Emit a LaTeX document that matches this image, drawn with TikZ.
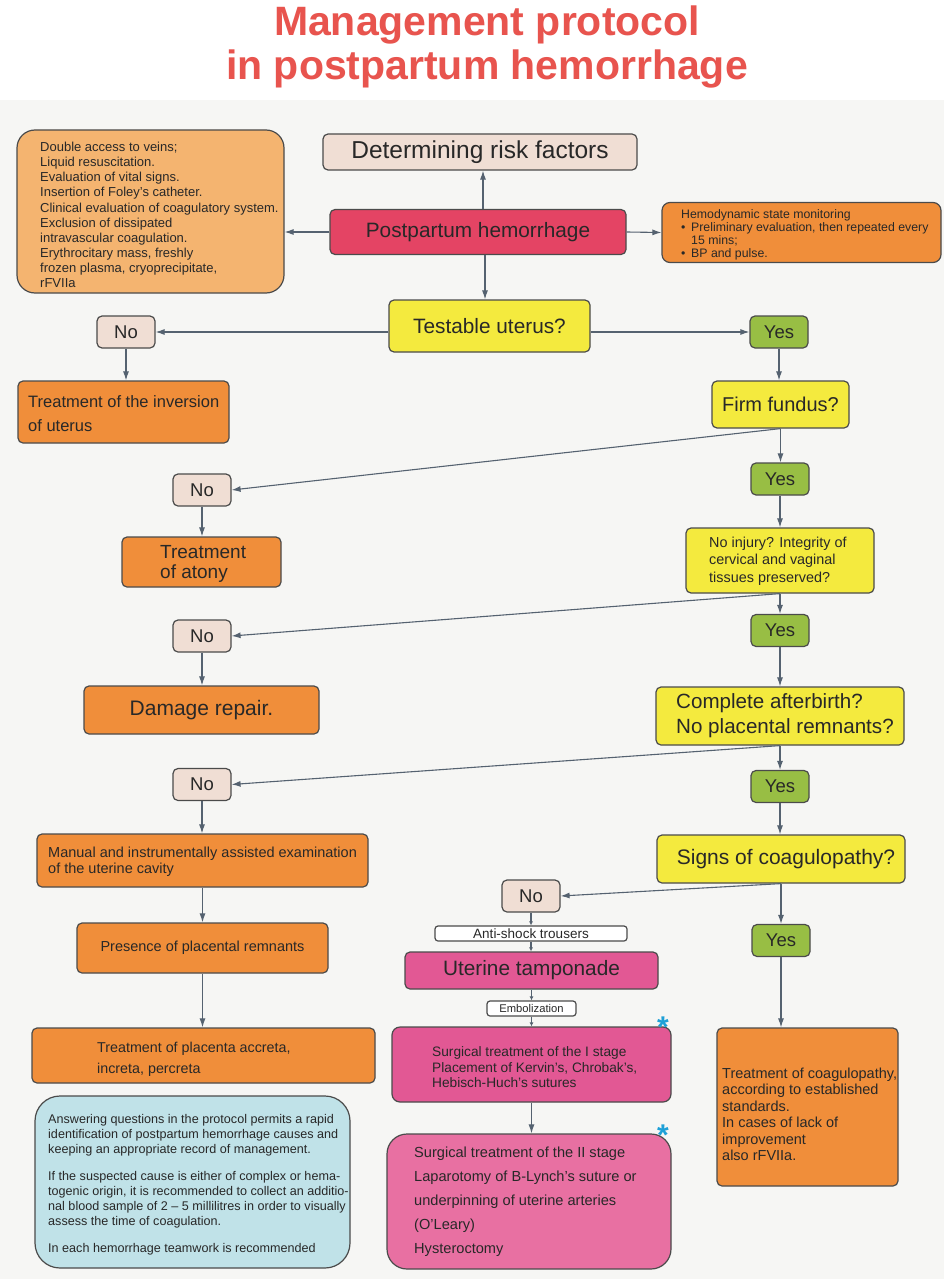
\documentclass[tikz,border=0pt]{standalone}
\usepackage{fontspec}
\setmainfont{Liberation Sans}
\usetikzlibrary{arrows.meta,calc}
\definecolor{pale}{RGB}{240,222,212}
\definecolor{crim}{RGB}{228,68,100}
\definecolor{lorange}{RGB}{244,180,112}
\definecolor{orng}{RGB}{240,142,58}
\definecolor{yel}{RGB}{244,234,62}
\definecolor{grn}{RGB}{152,190,68}
\definecolor{mag}{RGB}{226,88,148}
\definecolor{mag2}{RGB}{232,112,162}
\definecolor{lblue}{RGB}{192,226,232}
\definecolor{edge}{RGB}{75,75,75}
\definecolor{arr}{RGB}{85,98,112}
\definecolor{titlered}{RGB}{232,84,78}
\definecolor{starblue}{RGB}{30,160,215}
\definecolor{bg}{RGB}{246,246,244}
\definecolor{txt}{RGB}{40,40,40}
\newcommand{\myfs}[2]{\fontsize{#1}{#2}\selectfont}
\tikzset{
  box/.style={draw=edge, line width=1.2pt, rounded corners=5pt, inner sep=0pt, text=txt, align=center},
  lbl/.style={inner sep=0pt, text=txt, align=left, anchor=west},
  arw/.style={draw=arr, line width=1.1pt, -{Latex[length=9pt,width=6pt]}},
  sarw/.style={draw=arr, line width=1.1pt, -{Latex[length=4pt,width=4pt]}},
  yn/.style={box, minimum width=58pt, minimum height=32pt, font=\myfs{18.5}{21}},
  starnode/.style={text=starblue, inner sep=0pt, font=\bfseries\myfs{30}{30}}
}
\begin{document}
\begin{tikzpicture}[x=1pt,y=-1pt]
\useasboundingbox (0,0) rectangle (944,1279);
\fill[white] (0,0) rectangle (944,1279);
\fill[bg] (0,100) rectangle (944,1279);
% title
\node[text=titlered, font=\bfseries\myfs{41}{44}, align=center, inner sep=0pt] (title) at (487,47)
  {Management protocol\\in postpartum hemorrhage};
% top row
\node[box, fill=pale, minimum width=314pt, minimum height=36pt, font=\myfs{24.5}{28}] (risk) at (480,152) {Determining risk factors};
\node[box, fill=crim, minimum width=296pt, minimum height=45pt, font=\myfs{20.8}{24}] (pph) at (478,232) {Postpartum hemorrhage};
\node[box, fill=lorange, rounded corners=18pt, minimum width=267pt, minimum height=163pt] (lbox) at (150.5,211.5) {};
\node[lbl, font=\myfs{13}{15.1}] (lboxt) at (40,215) {Double access to veins;\\Liquid resuscitation.\\Evaluation of vital signs.\\Insertion of Foley's catheter.\\Clinical evaluation of coagulatory system.\\Exclusion of dissipated\\intravascular coagulation.\\Erythrocitary mass, freshly\\frozen plasma, cryoprecipitate,\\rFVIIa};
\node[box, fill=orng, rounded corners=8pt, minimum width=279pt, minimum height=60pt] (hemo) at (801.5,232.5) {};
\node[lbl, font=\myfs{12.3}{12.8}] (hemot) at (681,235) {Hemodynamic state monitoring\\\makebox[10pt][l]{\textbullet}Preliminary evaluation, then repeated every\\\hspace*{10pt}15 mins;\\\makebox[10pt][l]{\textbullet}BP and pulse.};
% testable
\node[box, fill=yel, minimum width=201pt, minimum height=52pt, font=\myfs{20.8}{24}] (test) at (489.5,326) {Testable uterus?};
\node[yn, fill=pale] (no1) at (126,332) {No};
\node[yn, fill=grn] (yes1) at (779,332) {Yes};
\node[box, fill=orng, minimum width=211pt, minimum height=62pt] (inv) at (123.5,412) {};
\node[lbl, font=\myfs{16.5}{24}] (invt) at (28,414) {Treatment of the inversion\\of uterus};
\node[box, fill=yel, minimum width=137pt, minimum height=47pt, font=\myfs{20}{23}] (firm) at (780.5,404.5) {Firm fundus?};
% atony level
\node[yn, fill=pale] (no2) at (202,490) {No};
\node[yn, fill=grn] (yes2) at (780,479) {Yes};
\node[box, fill=orng, minimum width=159pt, minimum height=50pt] (atony) at (201.5,562) {};
\node[lbl, font=\myfs{19}{20.5}] (atonyt) at (160,564) {Treatment\\of atony};
\node[box, fill=yel, minimum width=188pt, minimum height=65pt] (noinj) at (780,560.5) {};
\node[lbl, font=\myfs{14.4}{17.5}] (noinjt) at (709,561) {No injury? Integrity of\\cervical and vaginal\\tissues preserved?};
% damage level
\node[yn, fill=pale] (no3) at (202,636) {No};
\node[yn, fill=grn] (yes3) at (780,630.5) {Yes};
\node[box, fill=orng, minimum width=235pt, minimum height=48pt, font=\myfs{21}{24}] (dmg) at (201.5,710) {Damage repair.};
\node[box, fill=yel, minimum width=248pt, minimum height=58pt] (compl) at (780,716) {};
\node[lbl, font=\myfs{20.6}{25}] (complt) at (676,715.5) {Complete afterbirth?\\No placental remnants?};
% placenta level
\node[yn, fill=pale] (no4) at (202,784.5) {No};
\node[yn, fill=grn] (yes4) at (780,786.5) {Yes};
\node[box, fill=orng, minimum width=331pt, minimum height=53pt] (manual) at (202.5,860.5) {};
\node[lbl, font=\myfs{14.5}{16.5}] (manualt) at (48,861.5) {Manual and instrumentally assisted examination\\of the uterine cavity};
\node[box, fill=yel, minimum width=248pt, minimum height=48pt, font=\myfs{21}{24}] (signs) at (781,859) {\hspace*{10pt}Signs of coagulopathy?};
\node[box, fill=orng, minimum width=251pt, minimum height=50pt, font=\myfs{14.5}{17}] (pres) at (202.5,948) {Presence of placental remnants};
\node[box, fill=orng, minimum width=343pt, minimum height=55pt] (plac) at (203.5,1055.5) {};
\node[lbl, font=\myfs{14.3}{21}] (plact) at (97,1059.5) {Treatment of placenta accreta,\\increta, percreta};
% coagulopathy branches
\node[yn, fill=pale] (no5) at (531,896) {No};
\node[yn, fill=grn] (yes5) at (781,940.5) {Yes};
\node[box, fill=white, rounded corners=3pt, minimum width=192pt, minimum height=15pt, font=\myfs{13.5}{14}] (anti) at (531,933.5) {Anti-shock trousers};
\node[box, fill=mag, minimum width=253pt, minimum height=37pt, font=\myfs{20.8}{24}] (tamp) at (531.5,970.5) {Uterine tamponade};
\node[box, fill=white, rounded corners=3pt, minimum width=89pt, minimum height=15pt, font=\myfs{11.2}{12}] (embo) at (531.5,1008.5) {Embolization};
\node[box, fill=mag, rounded corners=8pt, minimum width=279pt, minimum height=75pt] (surg1) at (531.5,1064.5) {};
\node[lbl, font=\myfs{13.7}{15.5}] (surg1t) at (432,1067.5) {Surgical treatment of the I stage\\Placement of Kervin's, Chrobak's,\\Hebisch-Huch's sutures};
\node[box, fill=mag2, rounded corners=20pt, minimum width=284pt, minimum height=135pt] (surg2) at (529,1201.5) {};
\node[lbl, font=\myfs{14.6}{24}] (surg2t) at (414,1202) {Surgical treatment of the II stage\\Laparotomy of B-Lynch's suture or\\underpinning of uterine arteries\\(O'Leary)\\Hysteroctomy};
\node[starnode] (star1) at (663,1027) {*};
\node[starnode] (star2) at (663,1135) {*};
\node[box, fill=orng, minimum width=181pt, minimum height=158pt] (coag) at (807.5,1107) {};
\node[lbl, font=\myfs{14.5}{16.5}] (coagt) at (722,1114.5) {Treatment of coagulopathy,\\according to established\\standards.\\In cases of lack of\\improvement\\also rFVIIa.};
\node[box, fill=lblue, rounded corners=25pt, minimum width=315pt, minimum height=172pt] (note) at (192.5,1182) {};
\node[lbl, font=\myfs{12.6}{15}] (notet) at (48,1185) {Answering questions in the protocol permits a rapid\\identification of postpartum hemorrhage causes and\\keeping an appropriate record of management.\\[12pt]If the suspected cause is either of complex or hema-\\togenic origin, it is recommended to collect an additio-\\nal blood sample of 2 -- 5 millilitres in order to visually\\assess the time of coagulation.\\[12pt]In each hemorrhage teamwork is recommended};
% connectors
\draw[arw] ([xshift=5pt]pph.north) -- ([xshift=5pt]pph.north |- risk.south);
\draw[arw] (pph.west) -- (pph.west -| lbox.east);
\draw[arw] (pph.east) -- (hemo.west);
\draw[arw] ([xshift=7pt]pph.south) -- ([xshift=7pt]pph.south |- test.north);
\draw[arw] (test.west |- no1.east) -- (no1.east);
\draw[arw] (test.east |- yes1.west) -- (yes1.west);
\draw[arw] (no1.south) -- (no1.south |- inv.north);
\draw[arw] (yes1.south) -- (yes1.south |- firm.north);
\draw[arw] (firm.south) -- (no2.east);
\draw[arw] (firm.south) -- (firm.south |- yes2.north);
\draw[arw] (no2.south) -- (no2.south |- atony.north);
\draw[arw] (yes2.south) -- (yes2.south |- noinj.north);
\draw[arw] (noinj.south) -- (no3.east);
\draw[arw] (noinj.south) -- (noinj.south |- yes3.north);
\draw[arw] (no3.south) -- (no3.south |- dmg.north);
\draw[arw] (yes3.south) -- (yes3.south |- compl.north);
\draw[arw] (compl.south) -- (no4.east);
\draw[arw] (compl.south) -- (compl.south |- yes4.north);
\draw[arw] (no4.south) -- (no4.south |- manual.north);
\draw[arw] (yes4.south) -- (yes4.south |- signs.north);
\draw[arw] (manual.south) -- (manual.south |- pres.north);
\draw[arw] (pres.south) -- (pres.south |- plac.north);
\draw[arw] (signs.south) -- (no5.east);
\draw[arw] (signs.south) -- (signs.south |- yes5.north);
\draw[arw] (yes5.south) -- (yes5.south |- coag.north);
\draw[sarw] (no5.south) -- (no5.south |- anti.north);
\draw[sarw] (anti.south) -- (anti.south |- tamp.north);
\draw[sarw] (tamp.south) -- (tamp.south |- embo.north);
\draw[sarw] (embo.south) -- (embo.south |- surg1.north);
\draw[arw] (surg1.south) -- (surg1.south |- surg2.north);
\end{tikzpicture}
\end{document}
